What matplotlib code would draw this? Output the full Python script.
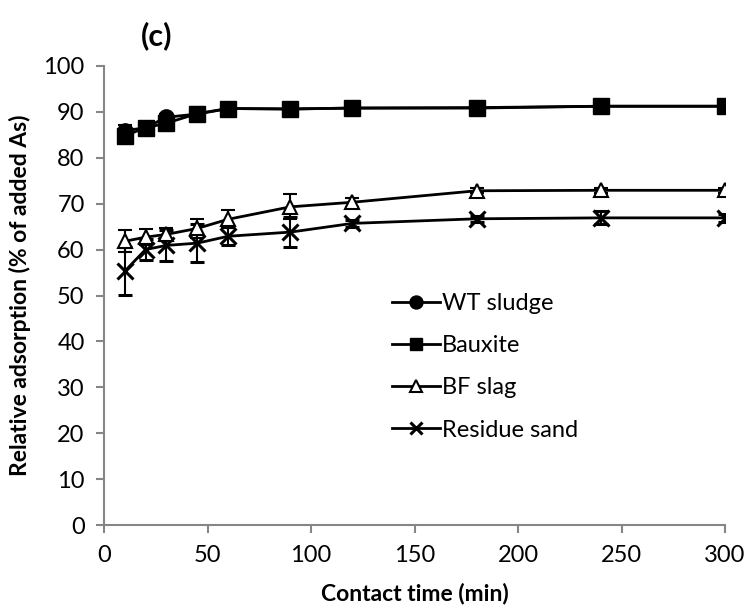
import numpy as np
import matplotlib.pyplot as plt

plt.rcParams['font.family'] = ['Lato', 'DejaVu Sans']

# contact time (min)
t = [10, 20, 30, 45, 60, 90, 120, 180, 240, 300]

# relative adsorption (% of added As)
wt_sludge = [85.9, 86.5, 88.8, 89.5, 90.7, 90.6, 90.8, 90.9, 91.2, 91.2]
wt_err = [1.2, 0.8, 0.8, 1.2, 0.6, 0.6, 0.5, 0.4, 0.4, 0.4]
bauxite = [84.8, 86.5, 87.5, 89.6, 90.7, 90.6, 90.8, 90.8, 91.2, 91.2]
baux_err = [1.5, 1.0, 1.0, 1.5, 0.6, 0.6, 0.5, 0.4, 0.4, 0.4]
bf_slag = [61.8, 62.7, 63.3, 64.6, 66.6, 69.3, 70.3, 72.8, 72.9, 72.9]
bf_err = [2.4, 1.7, 1.5, 2.0, 2.0, 2.7, 1.0, 0.5, 0.6, 0.5]
residue = [55.3, 60.0, 60.9, 61.4, 62.9, 63.8, 65.7, 66.7, 66.9, 66.9]
res_err = [5.2, 2.2, 3.3, 4.2, 2.0, 3.3, 0.8, 0.6, 1.4, 0.8]

fig = plt.figure(figsize=(7.49, 6.15), dpi=100)
ax = fig.add_axes([0.139, 0.146, 0.829, 0.747])

ax.errorbar(t, residue, yerr=res_err, color='black', marker='x', ms=11, mew=2.2,
            lw=2, capsize=5, elinewidth=1.5, capthick=1.5, label='Residue sand', zorder=3)
ax.errorbar(t, bf_slag, yerr=bf_err, color='black', marker='^', ms=10, mew=1.5,
            mfc='white', lw=2, capsize=5, elinewidth=1.5, capthick=1.5, label='BF slag', zorder=3)
ax.errorbar(t, wt_sludge, yerr=wt_err, color='black', marker='o', ms=11,
            lw=2, capsize=5, elinewidth=1.5, capthick=1.5, label='WT sludge', zorder=4)
ax.errorbar(t, bauxite, yerr=baux_err, color='black', marker='s', ms=11,
            lw=2, capsize=5, elinewidth=1.5, capthick=1.5, label='Bauxite', zorder=5)

ax.set_xlim(0, 300)
ax.set_ylim(0, 100)
ax.set_xticks(np.arange(0, 301, 50))
ax.set_yticks(np.arange(0, 101, 10))

for s in ['top', 'right']:
    ax.spines[s].set_visible(False)
for s in ['left', 'bottom']:
    ax.spines[s].set_color('#868686')
    ax.spines[s].set_linewidth(1.5)
ax.tick_params(direction='out', color='#868686', width=1.5, length=6,
               labelsize=17, pad=8)

ax.set_xlabel('Contact time (min)', fontsize=16.5, fontweight='bold', labelpad=12)
ax.set_ylabel('Relative adsorption (% of added As)', fontsize=16.5, fontweight='bold', labelpad=9)
ax.text(0.085, 1.065, '(c)', transform=ax.transAxes, fontsize=22, fontweight='bold',
        ha='center', va='center')

h, l = ax.get_legend_handles_labels()
order = [2, 3, 1, 0]
handles = [h[i][0] for i in order]
labels = [l[i] for i in order]
ax.legend(handles, labels, loc='center left', bbox_to_anchor=(0.43, 0.345),
          frameon=False, fontsize=17, handlelength=2.0, handletextpad=0.1,
          labelspacing=0.9, markerscale=0.85)

fig.savefig('out.png', dpi=100)
